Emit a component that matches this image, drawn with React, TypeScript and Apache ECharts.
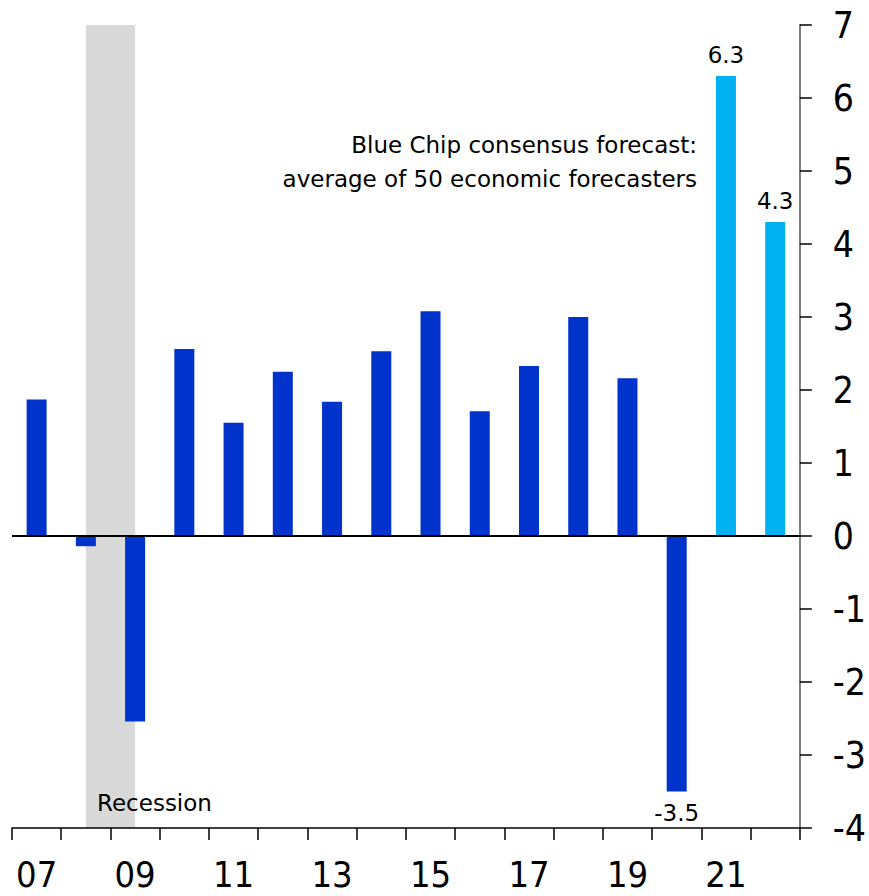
import React, { useEffect, useRef } from "react";
import * as echarts from "echarts";

const years = ["07", "08", "09", "10", "11", "12", "13", "14", "15", "16", "17", "18", "19", "20", "21", "22"];
const growth = [1.87, -0.14, -2.54, 2.56, 1.55, 2.25, 1.84, 2.53, 3.08, 1.71, 2.33, 3.0, 2.16, -3.5, 6.3, 4.3];
const forecastYears = ["21", "22"];
const labeledYears = ["20", "21", "22"];
const recession = ["08", "09"];
const yTicks = { min: -4, max: 7, interval: 1 };
const noteLines = ["Blue Chip consensus forecast:", "average of 50 economic forecasters"];
const recessionLabel = "Recession";

const FONT = '"DejaVu Sans"';
const AXFONT = '"DejaVu Sans Condensed", "DejaVu Sans"';
const DARK = "#0033CC";
const LIGHT = "#00B0F0";

export default function App() {
  const ref = useRef<HTMLDivElement>(null);
  useEffect(() => {
    if (!ref.current) return;
    const chart = echarts.init(ref.current, null, { renderer: "svg" });
    const data = years.map((y, i) => {
      const v = growth[i];
      const isF = forecastYears.includes(y);
      const item: any = { value: v, itemStyle: { color: isF ? LIGHT : DARK } };
      if (labeledYears.includes(y)) {
        item.label = {
          show: true,
          position: v >= 0 ? "top" : "bottom",
          formatter: (p: any) => p.value.toFixed(1),
          fontFamily: FONT,
          fontSize: 23,
          color: "#000",
          distance: 10,
        };
      }
      return item;
    });
    chart.setOption({
      animation: false,
      textStyle: { fontFamily: FONT },
      grid: { left: 12, right: 69, top: 25, bottom: 68, containLabel: false },
      xAxis: {
        type: "category",
        data: years,
        boundaryGap: true,
        axisLine: { onZero: false, lineStyle: { color: "#000", width: 1.5 } },
        axisTick: { show: true, interval: 0, length: 12, lineStyle: { color: "#000", width: 1.5 } },
        axisLabel: { interval: 1, fontSize: 36, color: "#000", fontFamily: AXFONT, margin: 28 },
        splitLine: { show: false },
      },
      yAxis: {
        type: "value",
        position: "right",
        min: yTicks.min,
        max: yTicks.max,
        interval: yTicks.interval,
        axisLine: { show: true, lineStyle: { color: "#808080", width: 2 } },
        axisTick: { show: true, length: 12, lineStyle: { color: "#000", width: 1.5 } },
        axisLabel: { fontSize: 37, color: "#000", fontFamily: AXFONT, margin: 33 },
        splitLine: { show: false },
      },
      series: [
        {
          type: "bar",
          data,
          barWidth: 20,
          z: 3,
          markLine: {
            silent: true,
            symbol: "none",
            label: { show: false },
            lineStyle: { color: "#000", width: 2, type: "solid" },
            data: [{ yAxis: 0 }],
          },
        },
      ],
    });
    const x0 = chart.convertToPixel({ xAxisIndex: 0 }, recession[0]) as number;
    const x1 = chart.convertToPixel({ xAxisIndex: 0 }, recession[1]) as number;
    const yTop = chart.convertToPixel({ yAxisIndex: 0 }, yTicks.max) as number;
    const yBot = chart.convertToPixel({ yAxisIndex: 0 }, yTicks.min) as number;
    chart.setOption({
      graphic: [
        {
          type: "rect",
          z: -10,
          silent: true,
          shape: { x: x0, y: yTop, width: x1 - x0, height: yBot - yTop },
          style: { fill: "#D9D9D9" },
        },
        {
          type: "text",
          z: 10,
          x: 697,
          y: 145,
          style: {
            text: noteLines[0],
            font: `23px ${FONT}`,
            fill: "#000",
            align: "right",
            verticalAlign: "middle",
          },
        },
        {
          type: "text",
          z: 10,
          x: 697,
          y: 179,
          style: {
            text: noteLines[1],
            font: `23px ${FONT}`,
            fill: "#000",
            align: "right",
            verticalAlign: "middle",
          },
        },
        {
          type: "text",
          z: 10,
          x: 97,
          y: 803,
          style: { text: recessionLabel, font: `23px ${FONT}`, fill: "#000", verticalAlign: "middle" },
        },
      ],
    });
    return () => chart.dispose();
  }, []);
  return <div ref={ref} style={{ width: 869, height: 896, position: "absolute", left: 0, top: 0 }} />;
}
